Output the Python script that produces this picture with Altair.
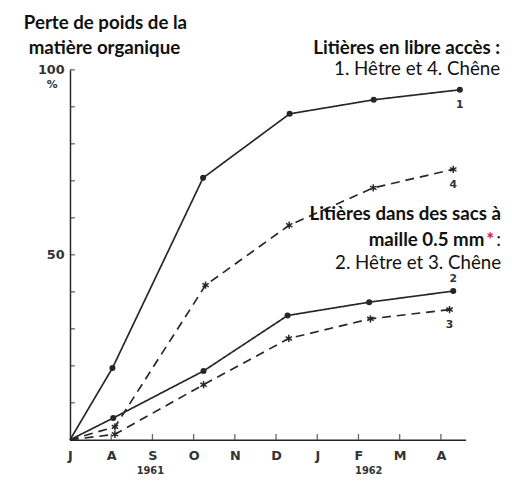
import altair as alt
import pandas as pd

# ---------------- data ----------------
months = ["J", "A", "S", "O", "N", "D", "J", "F", "M", "A"]
month_pos = list(range(10))
years = ["1961", "1962"]
year_pos = [1.95, 7.25]

s1_x = [0, 1.03, 3.23, 5.33, 7.37, 9.46]
s1_y = [0, 19.4, 70.8, 88.1, 91.9, 94.6]
s2_x = [0, 1.05, 3.24, 5.28, 7.26, 9.30]
s2_y = [0, 5.9, 18.6, 33.6, 37.2, 40.2]
s3_x = [0, 1.09, 3.24, 5.31, 7.29, 9.21]
s3_y = [0, 1.5, 14.9, 27.4, 32.7, 35.2]
s4_x = [0, 1.09, 3.29, 5.32, 7.36, 9.30]
s4_y = [0, 3.5, 41.8, 58.0, 68.1, 73.1]

series_ids = ["1", "2", "3", "4"]
series_kind = ["solid", "solid", "dashed", "dashed"]
series_marker = ["circle", "circle", "star", "star"]
label_side = ["below", "above", "below", "below"]

y_tick_values = [10, 20, 30, 40, 50, 60, 70, 80, 90, 100]
y_label_values = [50, 100]
x_tick_values = month_pos[1:]

title_lines = ["Perte de poids de la", "matière organique"]
ann_top = ["Litières en libre accès :", "1. Hêtre et 4. Chêne"]
ann_bottom = ["Litières dans des sacs à", "maille 0.5 mm", "*", ":", "2. Hêtre et 3. Chêne"]

# ---------------- tables ----------------
xs = [s1_x, s2_x, s3_x, s4_x]
ys = [s1_y, s2_y, s3_y, s4_y]
rows = []
for sid, kind, mk, side, sx, sy in zip(series_ids, series_kind, series_marker, label_side, xs, ys):
    for i, (a, b) in enumerate(zip(sx, sy)):
        rows.append({"series": sid, "kind": kind, "marker": mk, "side": side,
                     "x": a, "y": b, "last": i == len(sx) - 1})
df = pd.DataFrame(rows)
years_df = pd.DataFrame({"x": year_pos, "label": years})
yt_df = pd.DataFrame({"x": [0] * len(y_tick_values), "y": y_tick_values})
xt_df = pd.DataFrame({"x": x_tick_values, "y": [0] * len(x_tick_values)})

W, H = 402, 376
INK = "#262626"
FONT_AX = "DejaVu Sans"
FONT_TXT = "Lato"

xscale = alt.Scale(domain=[0, 9.6], nice=False, zero=False)
yscale = alt.Scale(domain=[0, 100], nice=False)

month_expr = "[" + ",".join("'" + m + "'" for m in months) + "][datum.value]"

X_AX = alt.Axis(
    orient="bottom", values=month_pos, labelExpr=month_expr, ticks=False,
    domain=True, domainColor=INK, domainWidth=1.5, grid=False, title=None,
    labelFont=FONT_AX, labelFontSize=13, labelFontWeight="bold", labelColor="#333",
    labelPadding=10, labelFlush=False, labelBound=False)
Y_AX = alt.Axis(
    orient="left", values=y_label_values, labelExpr="datum.value", ticks=False,
    domain=True, domainColor=INK, domainWidth=1.5, grid=False, title=None,
    labelFont=FONT_AX, labelFontSize=13, labelFontWeight="bold", labelColor="#333",
    labelPadding=6)


def X(field="x:Q"):
    return alt.X(field, scale=xscale, axis=X_AX, title=None)


def Y(field="y:Q"):
    return alt.Y(field, scale=yscale, axis=Y_AX, title=None)


base = alt.Chart(df)

lines = base.mark_line(color=INK, strokeWidth=1.7).encode(
    x=X(), y=Y(),
    detail="series:N",
    strokeDash=alt.StrokeDash("kind:N", scale=alt.Scale(domain=["solid", "dashed"],
                                                        range=[[1, 0], [9, 6]]), legend=None),
)

# inward tick marks, positioned by the scales
y_ticks = alt.Chart(yt_df).mark_tick(color=INK, thickness=1.3, size=5, orient="horizontal",
                                     xOffset=2.5).encode(x=X(), y=Y())
x_ticks = alt.Chart(xt_df).mark_tick(color=INK, thickness=1.3, size=6, orient="vertical",
                                     yOffset=-3).encode(x=X(), y=Y())

circles = base.transform_filter("datum.x > 0 && datum.marker == 'circle'").mark_point(
    shape="circle", filled=True, color=INK, size=38, opacity=1).encode(x=X(), y=Y())

star_path = "M0,-1L0,1M-0.87,-0.5L0.87,0.5M-0.87,0.5L0.87,-0.5"
stars = base.transform_filter("datum.x > 0 && datum.marker == 'star'").mark_point(
    shape=star_path, filled=False, color=INK, size=55, strokeWidth=1.5, opacity=1).encode(
    x=X(), y=Y())

lab_below = base.transform_filter("datum.last && datum.side == 'below'").mark_text(
    font=FONT_AX, fontSize=11, color="#333", dy=16, fontWeight="bold").encode(
    x=X(), y=Y(), text="series:N")
lab_above = base.transform_filter("datum.last && datum.side == 'above'").mark_text(
    font=FONT_AX, fontSize=11, color="#333", dy=-12, fontWeight="bold").encode(
    x=X(), y=Y(), text="series:N")

year_text = alt.Chart(years_df).mark_text(
    font=FONT_AX, fontSize=10, color="#333", fontWeight="bold", baseline="middle").encode(
    x=X(), y=alt.value(H + 32), text="label:N")


def txt(s, x, y, align="left", bold=False, size=19, color="#111", font=FONT_TXT):
    return alt.Chart(pd.DataFrame({"t": [s]})).mark_text(
        font=font, fontSize=size, align=align, baseline="middle",
        fontWeight="bold" if bold else "normal", color=color).encode(
        x=alt.value(x), y=alt.value(y), text="t:N")


ox, oy = 71, 67  # plot origin on page
texts = [
    txt(title_lines[0], 107 - ox, 20 - oy, "center", True),
    txt(title_lines[1], 106 - ox, 45 - oy, "center", True),
    txt("%", 53 - ox, 82 - oy, "center", True, 11, "#333", FONT_AX),
    txt(ann_top[0], 508 - ox, 45 - oy, "right", True),
    txt(ann_top[1], 508 - ox, 66 - oy, "right", False),
    txt(ann_bottom[0], 509 - ox, 214 - oy, "right", True),
    txt(ann_bottom[1], 492 - ox, 240 - oy, "right", True),
    txt(ann_bottom[2], 498 - ox, 240 - oy, "center", True, 19, "#e0201b"),
    txt(ann_bottom[3], 509 - ox, 240 - oy, "right", False),
    txt(ann_bottom[4], 509 - ox, 263 - oy, "right", False),
]

chart = alt.layer(lines, y_ticks, x_ticks, circles, stars, lab_below, lab_above,
                  year_text, *texts).properties(
    width=W, height=H,
    autosize=alt.AutoSizeParams(type="none"),
    padding={"left": ox - 8, "top": oy - 8, "right": 504 - (ox - 8) - W, "bottom": 36},
).configure_view(stroke=None)

chart.save("out.html", embed_options={"renderer": "svg", "actions": False})
